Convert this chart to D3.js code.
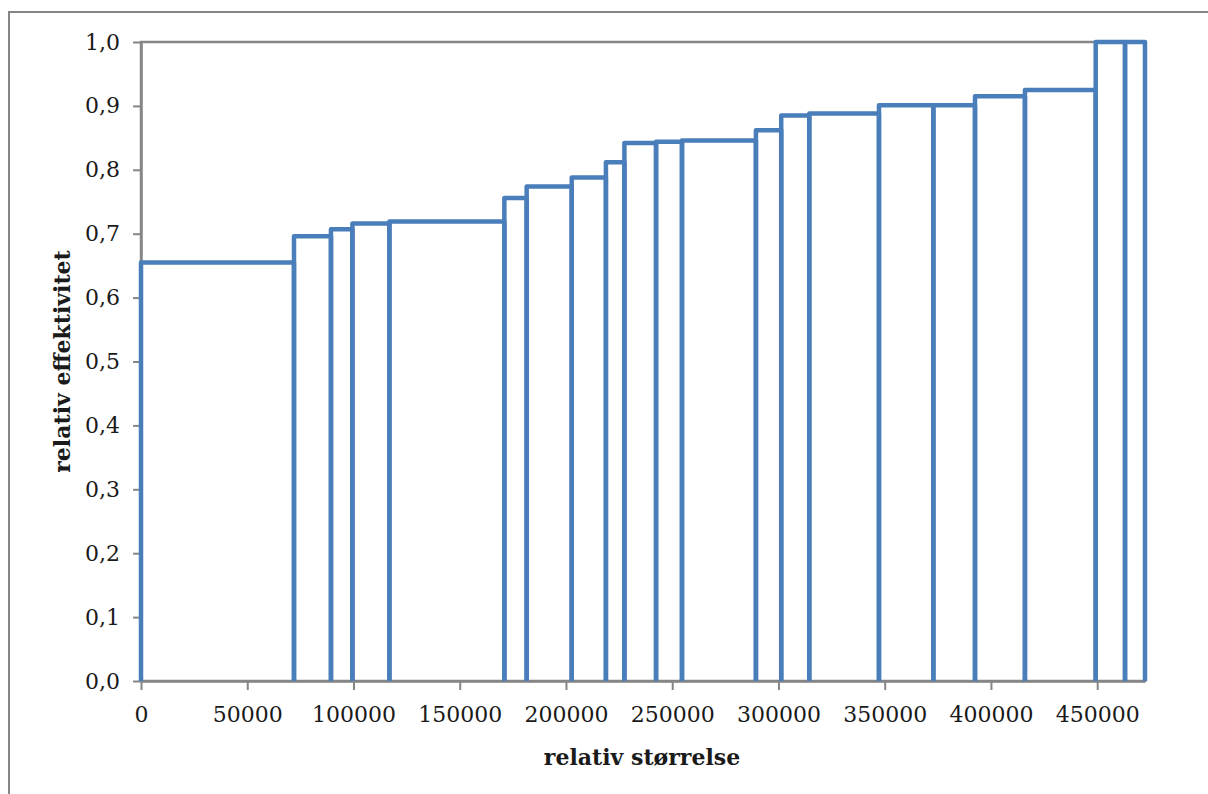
<!DOCTYPE html>
<html>
<head>
<meta charset="utf-8">
<script src="https://cdn.jsdelivr.net/npm/d3@7/dist/d3.min.js"></script>
<style>
  html, body { margin: 0; padding: 0; background: #fff; }
  svg { display: block; }
</style>
</head>
<body>
<svg id="chart" width="1208" height="794"></svg>
<script>
// Segment boundaries along the x axis (relativ størrelse), cumulative
const boundaries = [0, 72000, 89400, 99500, 116900, 171000, 181500, 202700, 218800, 227500,
  242400, 254600, 289400, 301300, 314500, 347300, 372900, 392500, 416000, 449300, 463100, 472500];
// Height of each segment (relativ effektivitet)
const efficiency = [0.655, 0.696, 0.707, 0.716, 0.719, 0.756, 0.774, 0.788, 0.812, 0.842,
  0.844, 0.846, 0.862, 0.885, 0.888, 0.901, 0.901, 0.915, 0.925, 1.0, 1.0];
const xTicks = [0, 50000, 100000, 150000, 200000, 250000, 300000, 350000, 400000, 450000];
const yTicks = [0, 0.1, 0.2, 0.3, 0.4, 0.5, 0.6, 0.7, 0.8, 0.9, 1.0];
const xTitle = "relativ størrelse";
const yTitle = "relativ effektivitet";

const svg = d3.select("#chart");
const m = { left: 141, right: 1145, top: 42, bottom: 681 };
const gray = "#868686";
const blue = "#4a7ebb";
const font = "'DejaVu Serif', 'Liberation Serif', serif";
const fs = 22;

// outer chart border
svg.append("rect").attr("x", 9).attr("y", 12).attr("width", 1220).attr("height", 800)
  .attr("fill", "#fff").attr("stroke", gray).attr("stroke-width", 2);

const x = d3.scaleLinear().domain([0, boundaries[boundaries.length - 1]]).range([m.left, m.right]);
const y = d3.scaleLinear().domain([0, 1]).range([m.bottom, m.top]);

// plot area outline
svg.append("rect").attr("x", m.left).attr("y", m.top)
  .attr("width", m.right - m.left).attr("height", m.bottom - m.top)
  .attr("fill", "none").attr("stroke", gray).attr("stroke-width", 2.5);

// y axis
const yAxis = svg.append("g").attr("transform", `translate(${m.left},0)`)
  .call(d3.axisLeft(y).tickValues(yTicks).tickSize(8).tickSizeOuter(0).tickPadding(13)
    .tickFormat(d => d3.format(".1f")(d).replace(".", ",")));
yAxis.select(".domain").attr("stroke", gray).attr("stroke-width", 2.5);
yAxis.selectAll(".tick line").attr("stroke", gray).attr("stroke-width", 2);
yAxis.selectAll(".tick text").attr("font-family", font).attr("font-size", fs).attr("fill", "#1a1a1a");

// x axis
const xAxis = svg.append("g").attr("transform", `translate(0,${m.bottom})`)
  .call(d3.axisBottom(x).tickValues(xTicks).tickSize(9).tickSizeOuter(0).tickPadding(16)
    .tickFormat(d3.format("d")));
xAxis.select(".domain").attr("stroke", gray).attr("stroke-width", 2.5);
xAxis.selectAll(".tick line").attr("stroke", gray).attr("stroke-width", 2);
xAxis.selectAll(".tick text").attr("font-family", font).attr("font-size", fs).attr("fill", "#1a1a1a");

// step segments
const segs = efficiency.map((v, i) => ({ x0: boundaries[i], x1: boundaries[i + 1], v }));
svg.append("g").selectAll("path").data(segs).join("path")
  .attr("d", d => `M${x(d.x0)},${y(0)} V${y(d.v)} H${x(d.x1)} V${y(0)}`)
  .attr("fill", "none").attr("stroke", blue).attr("stroke-width", 4.5)
  .attr("stroke-linejoin", "round");

// titles
svg.append("text").attr("x", 642).attr("y", 765)
  .attr("text-anchor", "middle").attr("font-family", font).attr("font-weight", "bold")
  .attr("font-size", fs).attr("fill", "#1a1a1a").text(xTitle);
svg.append("text").attr("transform", `translate(70,${(m.top + m.bottom) / 2}) rotate(-90)`)
  .attr("text-anchor", "middle").attr("font-family", font).attr("font-weight", "bold")
  .attr("font-size", fs).attr("fill", "#1a1a1a").text(yTitle);
</script>
</body>
</html>
